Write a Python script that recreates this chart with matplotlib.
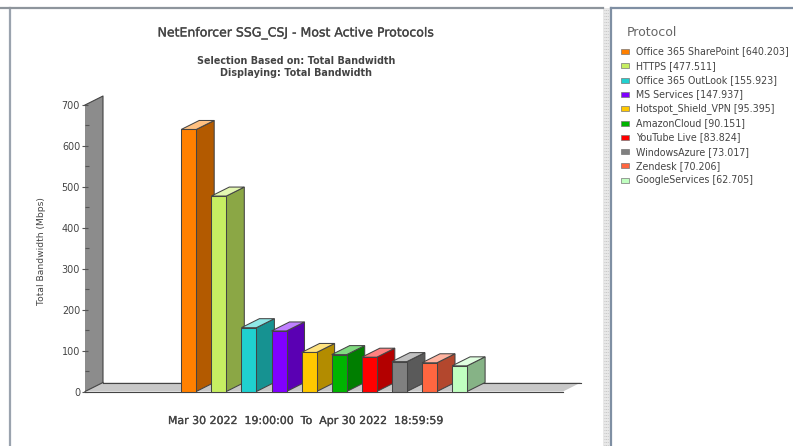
import matplotlib
matplotlib.use('Agg')
import matplotlib.pyplot as plt
import matplotlib.patheffects as pe
from matplotlib.colors import to_rgb
from matplotlib.patches import Polygon, Rectangle
from matplotlib.ticker import MultipleLocator

plt.rcParams['font.family'] = 'DejaVu Sans'

# --- data ---
protocols = ['Office 365 SharePoint', 'HTTPS', 'Office 365 OutLook', 'MS Services',
             'Hotspot_Shield_VPN', 'AmazonCloud', 'YouTube Live', 'WindowsAzure',
             'Zendesk', 'GoogleServices']
bandwidth = [640.203, 477.511, 155.923, 147.937, 95.395, 90.151, 83.824, 73.017, 70.206, 62.705]
bar_colors = ['#FF8000', '#C6EE62', '#20D0CF', '#8000FF', '#FFC800',
              '#00B400', '#FF0000', '#808080', '#FF6640', '#C0FFC0']
y_ticks = [0, 100, 200, 300, 400, 500, 600, 700]

W, H = 793, 446
EDGE = '#444444'
TEXT = '#444444'
heavy = [pe.withStroke(linewidth=0.2, foreground=TEXT)]

fig = plt.figure(figsize=(W / 100, H / 100), dpi=100)


def shade(col, f):
    return tuple(c * f for c in to_rgb(col))


def tint(col, f):
    return tuple(c + (1 - c) * f for c in to_rgb(col))


# --- window chrome, in pixels ---
bg = fig.add_axes([0, 0, 1, 1])
bg.set_xlim(0, W)
bg.set_ylim(H, 0)
bg.axis('off')
bg.plot([9.5, 9.5], [8, H], color='#9AA3AE', lw=1.6)
bg.plot([0, 603], [8, 8], color='#8E959C', lw=1.6)
bg.add_patch(Rectangle((603, 8), 7, H, fc='#E8E8E8', ec='none'))
for yy in range(10, H, 3):
    bg.plot([604, 609], [yy, yy], color='#BEBEBE', lw=0.6, ls=(0, (1, 1)))
bg.plot([611, 611], [8, H], color='#7F8FA3', lw=1.6)
bg.plot([611, W], [8, 8], color='#7F8FA3', lw=1.6)

# --- 3D looking bars on a real value axis ---
x0, x1, y0, y1 = 85, 563, 391.5, 105
first_c, step = 188.7, 30.1
ax = fig.add_axes([x0 / W, 1 - y0 / H, (x1 - x0) / W, (y0 - y1) / H])
ax.patch.set_alpha(0)
ax.set_xlim((x0 - first_c) / step, (x1 - first_c) / step)
ax.set_ylim(0, 700)
dx = 18 / step
dy = 9 * 700 / (y0 - y1)
xa, xb = ax.get_xlim()
top = ax.get_ylim()[1]

# floor and wall
ax.add_patch(Polygon([(xa, 0), (xb, 0), (xb + dx, dy), (xa + dx, dy)], fc='#C8C8C8', ec='none',
                     clip_on=False))
ax.plot([xa, xb], [0, 0], color=EDGE, lw=0.8, clip_on=False)
ax.plot([xa + dx, xb + dx], [dy, dy], color=EDGE, lw=0.8, clip_on=False)
ax.add_patch(Polygon([(xa, 0), (xa + dx, dy), (xa + dx, top + dy), (xa, top)], fc='#8C8C8C', ec='none',
                     clip_on=False))
ax.plot([xa, xa + dx, xa + dx], [top, top + dy, dy], color=EDGE, lw=0.8, clip_on=False)
ax.plot([xa, xa + dx], [0, dy], color=EDGE, lw=0.8, clip_on=False)

hw = 7.5 / step
for i, (v, c) in enumerate(zip(bandwidth, bar_colors)):
    l, r = i - hw, i + hw
    ax.add_patch(Polygon([(r, 0), (r + dx, dy), (r + dx, v + dy), (r, v)], fc=shade(c, 0.7),
                         ec=EDGE, lw=0.75, clip_on=False, zorder=3))
    ax.add_patch(Polygon([(l, v), (r, v), (r + dx, v + dy), (l + dx, v + dy)], fc=tint(c, 0.5),
                         ec=EDGE, lw=0.75, clip_on=False, zorder=3))
    ax.add_patch(Rectangle((l, 0), r - l, v, fc=c, ec=EDGE, lw=0.75, clip_on=False, zorder=4))

ax.set_xticks([])
ax.set_yticks(y_ticks)
ax.yaxis.set_minor_locator(MultipleLocator(50))
ax.tick_params(axis='y', which='major', direction='inout', length=5, width=0.8, color='#555555',
               labelsize=6.9, labelcolor=TEXT, pad=1)
ax.tick_params(axis='y', which='minor', direction='in', length=3, width=0.8, color='#555555')
for s in ['top', 'right', 'left', 'bottom']:
    ax.spines[s].set_visible(False)
ax.set_ylabel('Total Bandwidth (Mbps)', fontsize=6.6, color=TEXT)
ax.yaxis.set_label_coords((46 - x0) / (x1 - x0), 0.49)

# --- titles ---
bg.text(296, 33, 'NetEnforcer SSG_CSJ - Most Active Protocols', ha='center', va='center',
        fontsize=9.0, color=TEXT, path_effects=heavy)
bg.text(296, 61, 'Selection Based on: Total Bandwidth', ha='center', va='center',
        fontsize=6.9, color=TEXT, fontweight='bold')
bg.text(296, 73, 'Displaying: Total Bandwidth', ha='center', va='center',
        fontsize=6.9, color=TEXT, fontweight='bold')
bg.text(305.5, 421, 'Mar 30 2022  19:00:00  To  Apr 30 2022  18:59:59', ha='center', va='center',
        fontsize=7.9, color=TEXT, path_effects=heavy)

# --- legend ---
bg.text(627, 32.5, 'Protocol', ha='left', va='center', fontsize=9.0, color='#666666')
for i, (name, v, c) in enumerate(zip(protocols, bandwidth, bar_colors)):
    yy = 51.5 + i * 14.3
    bg.add_patch(Rectangle((620.5, yy - 2.5), 8.5, 5, fc=c, ec='#777777', lw=0.5))
    bg.text(636, yy, f'{name} [{v:.3f}]', ha='left', va='center', fontsize=6.85, color=TEXT)

fig.savefig('out.png', dpi=100)
